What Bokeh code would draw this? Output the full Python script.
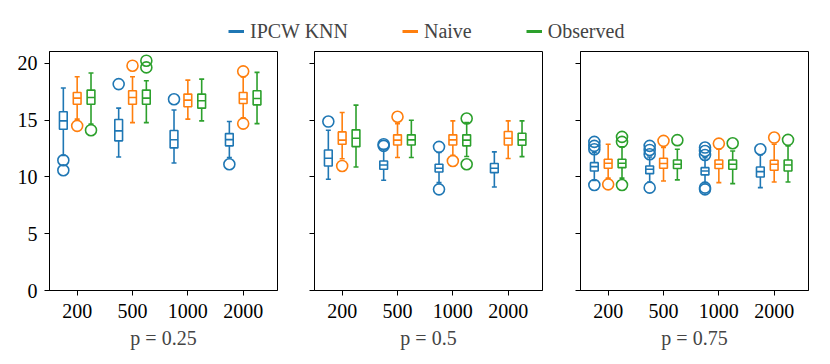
from bokeh.plotting import figure
from bokeh.layouts import row, column
from bokeh.models import FixedTicker, Legend, LegendItem, Range1d
from bokeh.embed import file_html
from bokeh.resources import INLINE

CATEGORIES = ["200", "500", "1000", "2000"]
PANELS = ["p = 0.25", "p = 0.5", "p = 0.75"]
SERIES = ["IPCW KNN", "Naive", "Observed"]
COLORS = ["#1f77b4", "#ff7f0e", "#2ca02c"]
Y_TICKS = [0, 5, 10, 15, 20]

# each list: rows = panels (p=0.25, 0.5, 0.75), columns = categories
IPCW_LO = [[11.9, 11.76, 11.23, 11.7], [9.8, 9.71, 9.5, 9.12], [9.7, 9.56, 9.5, 9.06]]
IPCW_Q1 = [[14.2, 13.18, 12.56, 12.74], [10.97, 10.68, 10.44, 10.38], [10.53, 10.29, 10.18, 10.0]]
IPCW_MED = [[14.94, 14.06, 13.28, 13.29], [11.65, 11.06, 10.77, 10.77], [10.91, 10.68, 10.53, 10.47]]
IPCW_Q3 = [[15.74, 15.06, 14.09, 13.82], [12.38, 11.41, 11.12, 11.18], [11.26, 10.97, 10.82, 10.88]]
IPCW_HI = [[17.83, 16.06, 15.9, 14.88], [14.12, 12.44, 12.15, 12.21], [12.15, 11.76, 11.7, 11.94]]
IPCW_OUT = [[[11.47, 10.59], [18.18], [16.84], [11.12]],
            [[14.88], [12.88, 12.74], [12.65, 8.91], []],
            [[13.09, 12.74, 12.44, 9.29], [12.74, 12.38, 12.0, 9.06], [12.59, 12.29, 11.94, 9.06, 8.91], [12.44]]]

NAIVE_LO = [[15.09, 14.79, 15.09, 15.2], [11.6, 11.71, 11.9, 11.62], [9.9, 9.65, 9.5, 9.56]]
NAIVE_Q1 = [[16.41, 16.41, 16.18, 16.47], [12.88, 12.82, 12.82, 12.82], [10.77, 10.77, 10.74, 10.59]]
NAIVE_MED = [[16.94, 17.0, 16.77, 16.86], [13.24, 13.24, 13.27, 13.41], [11.21, 11.18, 11.12, 11.12]]
NAIVE_Q3 = [[17.44, 17.59, 17.3, 17.44], [13.97, 13.71, 13.71, 14.0], [11.56, 11.65, 11.5, 11.47]]
NAIVE_HI = [[18.83, 18.83, 18.53, 18.8], [15.68, 14.7, 14.94, 14.94], [12.88, 12.59, 12.44, 12.88]]
NAIVE_OUT = [[[14.5], [19.8], [], [19.3, 14.7]],
             [[10.97], [15.3], [11.41], []],
             [[9.35], [13.18], [12.94], [13.47]]]

OBS_LO = [[14.65, 14.79, 14.94, 14.7], [10.88, 11.71, 11.8, 11.79], [9.9, 9.74, 9.41, 9.56]]
OBS_Q1 = [[16.41, 16.41, 16.06, 16.35], [12.67, 12.82, 12.74, 12.79], [10.82, 10.74, 10.68, 10.53]]
OBS_MED = [[17.0, 16.94, 16.71, 16.91], [13.41, 13.27, 13.24, 13.27], [11.21, 11.12, 11.12, 11.06]]
OBS_Q3 = [[17.65, 17.65, 17.3, 17.59], [14.15, 13.71, 13.71, 13.85], [11.56, 11.5, 11.5, 11.5]]
OBS_HI = [[19.15, 18.47, 18.62, 19.21], [16.33, 15.0, 14.79, 14.94], [12.65, 12.44, 12.29, 12.74]]
OBS_OUT = [[[14.12], [20.24, 19.65], [], []],
           [[], [], [15.15, 11.12], []],
           [[13.53, 13.09, 9.29], [13.24], [12.97], [13.27]]]

STATS = [
    (IPCW_LO, IPCW_Q1, IPCW_MED, IPCW_Q3, IPCW_HI, IPCW_OUT),
    (NAIVE_LO, NAIVE_Q1, NAIVE_MED, NAIVE_Q3, NAIVE_HI, NAIVE_OUT),
    (OBS_LO, OBS_Q1, OBS_MED, OBS_Q3, OBS_HI, OBS_OUT),
]

FONT = "'Liberation Serif', serif"
FS = "20px"
OFFSETS = [-0.25, 0.0, 0.25]
BOX_W = 0.14
CAP_W = 0.09
LW = 1.6

figs = []
borders = [(49, 5), (32, 6), (32, 5)]
for pi, pname in enumerate(PANELS):
    bl, br = borders[pi]
    p = figure(frame_width=228, frame_height=239, output_backend="svg", toolbar_location=None,
               x_range=Range1d(-0.5, 3.62), y_range=Range1d(0, 21.05),
               min_border_left=bl, min_border_right=br, min_border_top=3, min_border_bottom=0,
               background_fill_color="white", border_fill_color="white")
    p.xgrid.visible = False
    p.ygrid.visible = False
    p.outline_line_color = "black"
    p.outline_line_width = 1
    for ax in (p.xaxis[0], p.yaxis[0]):
        ax.axis_line_color = "black"
        ax.major_tick_line_color = "black"
        ax.major_tick_in = 0
        ax.major_tick_out = 5
        ax.minor_tick_line_color = None
        ax.major_label_text_font = FONT
        ax.major_label_text_font_size = FS
        ax.major_label_text_color = "black"
    p.xaxis.ticker = FixedTicker(ticks=list(range(len(CATEGORIES))))
    p.xaxis.major_label_overrides = {i: c for i, c in enumerate(CATEGORIES)}
    p.xaxis.major_label_standoff = 8
    p.xaxis.axis_label = pname
    p.xaxis.axis_label_text_font = FONT
    p.xaxis.axis_label_text_font_size = FS
    p.xaxis.axis_label_text_font_style = "normal"
    p.xaxis.axis_label_standoff = 6
    p.yaxis.ticker = FixedTicker(ticks=Y_TICKS)
    p.yaxis.major_label_standoff = 7
    if pi > 0:
        p.yaxis.major_label_text_color = None

    for si, (lo, q1, med, q3, hi, out) in enumerate(STATS):
        col = COLORS[si]
        xs = [ci + OFFSETS[si] for ci in range(len(CATEGORIES))]
        L, Q1, M, Q3, H = lo[pi], q1[pi], med[pi], q3[pi], hi[pi]
        p.quad(left=[x - BOX_W / 2 for x in xs], right=[x + BOX_W / 2 for x in xs],
               bottom=Q1, top=Q3, fill_color=None, line_color=col, line_width=LW)
        p.segment(x0=[x - BOX_W / 2 for x in xs], x1=[x + BOX_W / 2 for x in xs],
                  y0=M, y1=M, line_color=col, line_width=LW)
        p.segment(x0=xs, x1=xs, y0=Q3, y1=H, line_color=col, line_width=LW)
        p.segment(x0=xs, x1=xs, y0=Q1, y1=L, line_color=col, line_width=LW)
        p.segment(x0=[x - CAP_W / 2 for x in xs], x1=[x + CAP_W / 2 for x in xs],
                  y0=H, y1=H, line_color=col, line_width=LW)
        p.segment(x0=[x - CAP_W / 2 for x in xs], x1=[x + CAP_W / 2 for x in xs],
                  y0=L, y1=L, line_color=col, line_width=LW)
        ox, oy = [], []
        for ci, vals in enumerate(out[pi]):
            for v in vals:
                ox.append(xs[ci])
                oy.append(v)
        p.scatter(x=ox, y=oy, marker="circle", size=11, fill_color=None,
                  line_color=col, line_width=LW)
    figs.append(p)

# legend strip above the panels
lf = figure(width=813, height=48, output_backend="svg", toolbar_location=None,
            x_range=Range1d(0, 1), y_range=Range1d(0, 1), min_border=0,
            background_fill_color="white", border_fill_color="white")
lf.outline_line_color = None
lf.axis.visible = False
lf.grid.visible = False
rends = [lf.line(x=[2, 3], y=[2, 3], line_color=c, line_width=3) for c in COLORS]
legend = Legend(items=[LegendItem(label=s, renderers=[r]) for s, r in zip(SERIES, rends)],
                orientation="horizontal", location=(228, 5),
                glyph_width=16, glyph_height=20, label_standoff=6, spacing=54,
                padding=0, margin=0, border_line_alpha=0, background_fill_alpha=0,
                label_text_font=FONT, label_text_font_size=FS, label_height=24)
lf.add_layout(legend, "center")

layout = column(lf, row(*figs, spacing=0), spacing=0)
open("out.html", "w").write(file_html(layout, INLINE))
